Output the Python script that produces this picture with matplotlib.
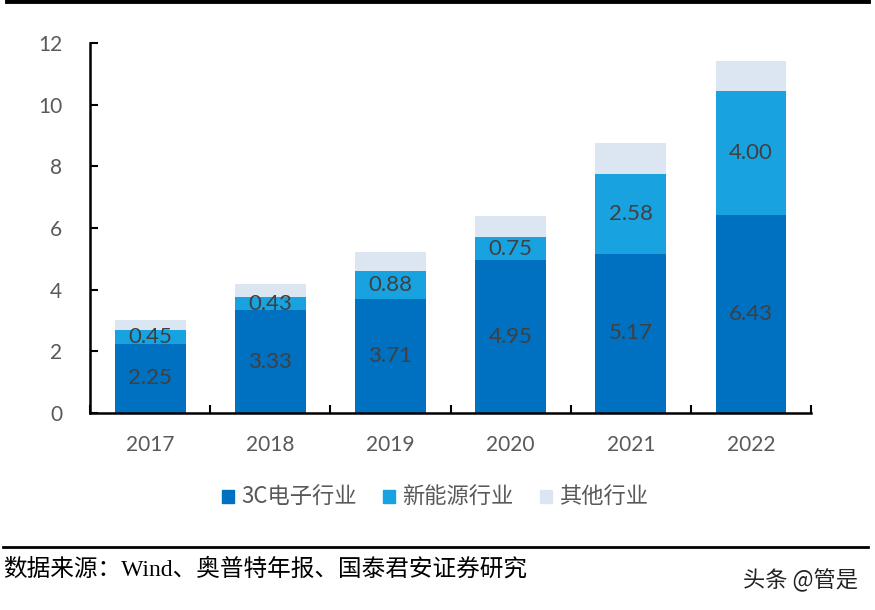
import numpy as np
import matplotlib
matplotlib.use("Agg")
import matplotlib.pyplot as plt
from matplotlib.lines import Line2D

years = ["2017", "2018", "2019", "2020", "2021", "2022"]
c3 = [2.25, 3.33, 3.71, 4.95, 5.17, 6.43]
new_energy = [0.45, 0.43, 0.88, 0.75, 2.58, 4.00]
other = [0.32, 0.42, 0.63, 0.69, 1.01, 0.99]
series_names = ["3C电子行业", "新能源行业", "其他行业"]
colors = ["#0070C0", "#18A3E0", "#DCE6F2"]

num_font = ["Lato", "Noto Sans CJK SC"]
cjk_font = ["Noto Sans CJK SC", "DejaVu Sans"]
serif_font = ["Liberation Serif", "Noto Sans CJK SC"]

fig = plt.figure(figsize=(8.75, 6.1), dpi=100)
ax = fig.add_axes([0.1029, 0.323, 0.824, 0.6065])

x = np.arange(len(years))
w = 0.59
ax.bar(x, c3, w, color=colors[0], zorder=2)
bottom2 = np.array(c3)
ax.bar(x, new_energy, w, bottom=bottom2, color=colors[1], zorder=2)
bottom3 = bottom2 + np.array(new_energy)
ax.bar(x, other, w, bottom=bottom3, color=colors[2], zorder=2)

# labels only for the two main segments
for i in range(len(years)):
    ax.text(x[i], c3[i] / 2, f"{c3[i]:.2f}", ha="center", va="center",
            fontsize=16, color="#404040", family=num_font)
    ax.text(x[i], bottom2[i] + new_energy[i] / 2, f"{new_energy[i]:.2f}",
            ha="center", va="center", fontsize=16, color="#404040", family=num_font)

ax.set_xlim(-0.5, 5.5)
ax.set_ylim(0, 12)
ax.set_yticks(range(0, 13, 2))
ax.set_yticklabels([str(v) for v in range(0, 13, 2)], family=num_font,
                   fontsize=15, color="#595959")
ax.set_xticks(x)
ax.set_xticklabels(years, family=num_font, fontsize=15, color="#595959")
ax.tick_params(axis="x", which="major", length=0, pad=16)
ax.set_xticks(np.arange(-0.5, 6.0, 1.0), minor=True)
ax.tick_params(axis="x", which="minor", direction="in", length=6, width=1.5)
ax.tick_params(axis="y", direction="in", length=6, width=1.5, pad=20)
ax.spines["top"].set_visible(False)
ax.spines["right"].set_visible(False)
for s in ["left", "bottom"]:
    ax.spines[s].set_linewidth(1.8)

handles = [plt.Rectangle((0, 0), 1, 1, color=c) for c in colors]
leg = fig.legend(handles, series_names, loc="center", bbox_to_anchor=(0.497, 0.184),
                 ncol=3, frameon=False, handlelength=0.55, handleheight=0.55,
                 handletextpad=0.3, columnspacing=1.2,
                 prop={"family": ["Noto Sans CJK SC"], "size": 16})
for t in leg.get_texts():
    t.set_color("#595959")

fig.add_artist(Line2D([0.008, 0.992], [0.998, 0.998], color="black", lw=3.5,
                      transform=fig.transFigure))
fig.add_artist(Line2D([0.003, 0.992], [0.103, 0.103], color="black", lw=2,
                      transform=fig.transFigure))

fig.text(0.003, 0.067, "数据来源：Wind、奥普特年报、国泰君安证券研究", family=serif_font,
         fontsize=17, color="black", va="center", ha="left")
fig.text(0.981, 0.049, "头条 @管是", family=cjk_font, fontsize=16, color="#222222",
         va="center", ha="right")

fig.savefig("out.png", dpi=100)
